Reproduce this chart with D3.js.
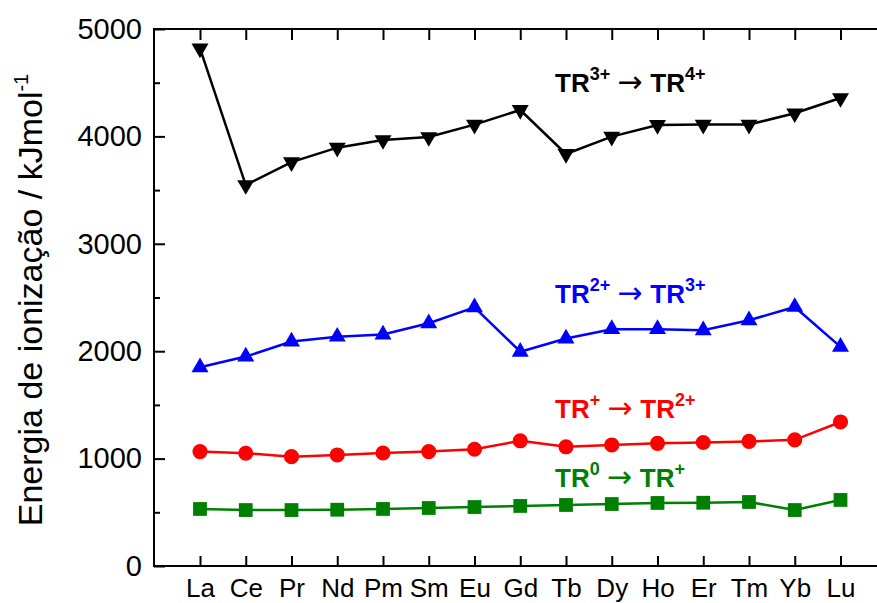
<!DOCTYPE html>
<html>
<head>
<meta charset="utf-8">
<script src="https://cdn.jsdelivr.net/npm/d3@7"></script>
<style>
  body { margin: 0; background: #fff; }
  text { font-family: "Liberation Sans", Arial, sans-serif; }
</style>
</head>
<body>
<svg id="chart" width="877" height="603"></svg>
<script>
// Data (kJ/mol)
var elements = ["La", "Ce", "Pr", "Nd", "Pm", "Sm", "Eu", "Gd", "Tb", "Dy", "Ho", "Er", "Tm", "Yb", "Lu"];
var tr0to1 = [531, 521, 521, 524, 531, 540, 549, 559, 568, 577, 587, 589, 596, 521, 615];
var tr1to2 = [1065, 1050, 1018, 1034, 1052, 1065, 1087, 1166, 1110, 1127, 1142, 1150, 1160, 1175, 1341];
var tr2to3 = [1850, 1950, 2090, 2135, 2155, 2260, 2408, 1995, 2118, 2205, 2205, 2195, 2288, 2412, 2040];
var tr3to4 = [4820, 3547, 3761, 3895, 3966, 3994, 4110, 4246, 3836, 3998, 4106, 4110, 4110, 4215, 4357];
var yTicks = [0, 1000, 2000, 3000, 4000, 5000];
var yMinor = [500, 1500, 2500, 3500, 4500];

(function() {
  var series = [
    { values: tr3to4, color: "#000000", marker: "down", label: ["TR", "3+", "TR", "4+"], lx: 555, ly: 92 },
    { values: tr2to3, color: "#0000ff", marker: "up", label: ["TR", "2+", "TR", "3+"], lx: 555, ly: 303 },
    { values: tr1to2, color: "#ff0000", marker: "circle", label: ["TR", "+", "TR", "2+"], lx: 555, ly: 418 },
    { values: tr0to1, color: "#008000", marker: "square", label: ["TR", "0", "TR", "+"], lx: 555, ly: 487 }
  ];

  var svg = d3.select("#chart");

  // plot frame
  var mLeft = 154, mRight = 878, mTop = 29, mBottom = 566;

  var x = d3.scaleLinear().domain([0, elements.length - 1]).range([200, 840.5]);
  var y = d3.scaleLinear().domain([0, 5000]).range([mBottom, mTop]);

  // axes (ticks point inward)
  var xBottom = d3.axisBottom(x).tickValues(d3.range(elements.length))
    .tickFormat(function(i) { return elements[i]; }).tickSize(-10).tickPadding(26);
  var xTop = d3.axisTop(x).tickValues(d3.range(elements.length)).tickFormat("").tickSize(-11);
  var yLeft = d3.axisLeft(y).tickValues(yTicks).tickFormat(d3.format("d")).tickSize(-11).tickPadding(12);
  var yLeftMinor = d3.axisLeft(y).tickValues(yMinor).tickFormat("").tickSize(-6);

  function styleAxis(g) {
    g.select(".domain").remove();
    g.selectAll(".tick line").attr("stroke", "#000").attr("stroke-width", 2);
    g.selectAll(".tick text").attr("fill", "#000").style("font-size", "26px");
  }

  svg.append("g").attr("transform", "translate(0," + mBottom + ")").call(xBottom).call(styleAxis)
    .selectAll(".tick text").attr("dy", "0.71em").attr("y", 13);
  svg.append("g").attr("transform", "translate(0," + mTop + ")").call(xTop).call(styleAxis);
  svg.append("g").attr("transform", "translate(" + mLeft + ",0)").call(yLeft).call(styleAxis)
    .selectAll(".tick text").style("font-size", "29px");
  svg.append("g").attr("transform", "translate(" + mLeft + ",0)").call(yLeftMinor).call(styleAxis);

  svg.append("rect")
    .attr("x", mLeft).attr("y", mTop)
    .attr("width", mRight - mLeft).attr("height", mBottom - mTop)
    .attr("fill", "none").attr("stroke", "#000").attr("stroke-width", 2);

  // y title
  var title = svg.append("text")
    .attr("transform", "translate(42,300) rotate(-90)")
    .attr("text-anchor", "middle")
    .style("font-size", "34px")
    .attr("fill", "#000");
  title.append("tspan").text("Energia de ionização / kJmol");
  title.append("tspan").attr("dy", -14).style("font-size", "20px").text("-1");

  var line = d3.line()
    .x(function(d, i) { return x(i); })
    .y(function(d) { return y(d); });

  var symbolFor = {
    up: d3.symbol().type(d3.symbolTriangle).size(125),
    down: d3.symbol().type(d3.symbolTriangle).size(125),
    circle: d3.symbol().type(d3.symbolCircle).size(180),
    square: d3.symbol().type(d3.symbolSquare).size(190)
  };

  series.forEach(function(s) {
    svg.append("path")
      .datum(s.values)
      .attr("d", line)
      .attr("fill", "none")
      .attr("stroke", s.color)
      .attr("stroke-width", 2.5);

    svg.selectAll(null)
      .data(s.values)
      .enter().append("path")
      .attr("d", symbolFor[s.marker])
      .attr("transform", function(d, i) {
        var t = "translate(" + x(i) + "," + y(d) + ")";
        return s.marker === "down" ? t + " rotate(180)" : t;
      })
      .attr("fill", s.color);

    var t = svg.append("text")
      .attr("x", s.lx).attr("y", s.ly)
      .attr("fill", s.color)
      .style("font-size", "26px")
      .style("font-weight", "bold");
    t.append("tspan").text(s.label[0]);
    t.append("tspan").attr("dy", -12).style("font-size", "18px").text(s.label[1]);
    t.append("tspan").attr("dy", 12).attr("dx", 7)
      .style("font-family", "'DejaVu Sans'").style("font-weight", "normal").style("font-size", "30px")
      .text("\u2192");
    t.append("tspan").attr("dx", 8).text(s.label[2]);
    t.append("tspan").attr("dy", -12).style("font-size", "18px").text(s.label[3]);
  });
})();
</script>
</body>
</html>
